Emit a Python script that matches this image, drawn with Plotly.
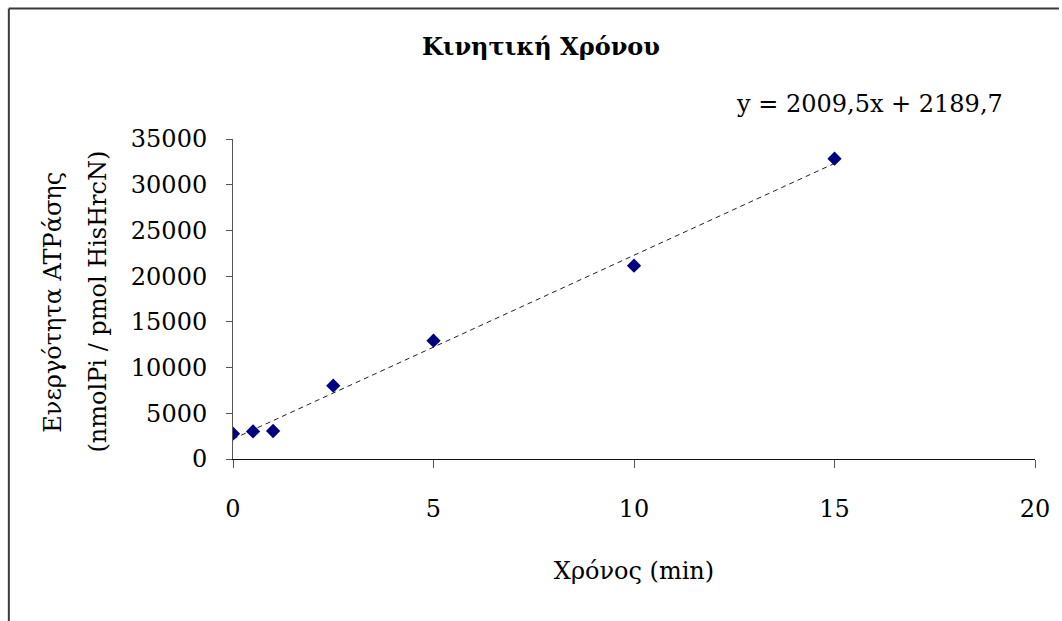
import plotly.graph_objects as go

# Measured ATPase activity over time
time_min = [0, 0.5, 1, 2.5, 5, 10, 15]
activity = [2770, 3020, 3060, 8020, 12940, 21140, 32850]

# Linear trendline coefficients
slope = 2009.5
intercept = 2189.7
trend_x = [min(time_min), max(time_min)]
trend_y = [slope * x + intercept for x in trend_x]

x_ticks = [0, 5, 10, 15, 20]
y_ticks = [0, 5000, 10000, 15000, 20000, 25000, 30000, 35000]

title_text = "Κινητική Χρόνου"
x_title = "Χρόνος (min)"
y_title_lines = ["Ενεργότητα ATPάσης", "(nmolPi / pmol HisHrcN)"]
equation = "y = 2009,5x + 2189,7"

W, H = 1062, 621
ML, MR, MT, MB = 233, 24, 139, 162
PW = W - ML - MR
PH = H - MT - MB

def px_x(p):
    return (p - ML) / PW

def px_y(p):
    return (H - MB - p) / PH

FONT = "DejaVu Serif"

fig = go.Figure()
fig.add_trace(go.Scatter(
    x=trend_x, y=trend_y, mode="lines",
    line=dict(color="#202020", width=1, dash="5px,4px"),
    hoverinfo="skip", showlegend=False,
))
fig.add_trace(go.Scatter(
    x=time_min, y=activity, mode="markers",
    marker=dict(symbol="diamond", size=11, color="#000080",
                line=dict(width=0)),
    showlegend=False,
))

fig.update_layout(
    width=W, height=H,
    margin=dict(l=ML, r=MR, t=MT, b=MB),
    paper_bgcolor="white", plot_bgcolor="white",
    font=dict(family=FONT, size=24, color="black"),
    title=dict(text=f"<b>{title_text}</b>", x=541 / W, y=1 - 47 / H,
               xanchor="center", yanchor="middle",
               font=dict(family=FONT, size=24, color="black")),
    xaxis=dict(
        range=[0, 20], tickvals=x_ticks, ticktext=[str(v) for v in x_ticks],
        showgrid=False, zeroline=False,
        showline=True, linecolor="#111", linewidth=1,
        ticks="outside", ticklen=8, tickcolor="#555", tickwidth=1,
        ticklabelstandoff=20,
        title=dict(text=x_title, standoff=40, font=dict(size=24)),
    ),
    yaxis=dict(
        range=[0, 35000], tickvals=y_ticks, ticktext=[str(v) for v in y_ticks],
        showgrid=False, zeroline=False,
        showline=True, linecolor="#555", linewidth=1,
        ticks="outside", ticklen=6, tickcolor="#555", tickwidth=1,
        ticklabelstandoff=14,
    ),
    showlegend=False,
)

# Two-line rotated y-axis title
for line_text, px in zip(y_title_lines, [52, 97]):
    fig.add_annotation(
        text=line_text, xref="paper", yref="paper",
        x=px_x(px), y=px_y(302), xanchor="center", yanchor="middle",
        textangle=-90, showarrow=False, font=dict(size=24),
    )

# Trendline equation
fig.add_annotation(
    text=equation, xref="paper", yref="paper",
    x=px_x(872), y=px_y(104), xanchor="center", yanchor="middle",
    showarrow=False, font=dict(size=24),
)

# Chart area border (top and left edges)
fig.add_shape(type="line", xref="paper", yref="paper",
              x0=px_x(8), x1=px_x(W), y0=px_y(8.5), y1=px_y(8.5),
              line=dict(color="#3a3a3a", width=2))
fig.add_shape(type="line", xref="paper", yref="paper",
              x0=px_x(8), x1=px_x(8), y0=px_y(8.5), y1=px_y(H),
              line=dict(color="#3a3a3a", width=2))

fig.write_html("out.html")
